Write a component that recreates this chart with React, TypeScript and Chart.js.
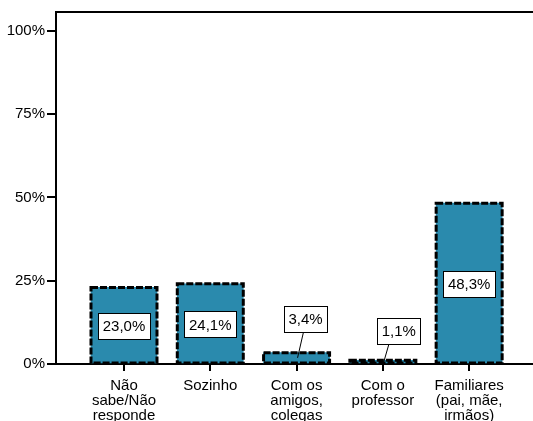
import React, { useEffect, useRef } from "react";
import { Chart, registerables } from "chart.js";

Chart.register(...registerables);

const categories: string[][] = [
  ["Não", "sabe/Não", "responde"],
  ["Sozinho"],
  ["Com os", "amigos,", "colegas"],
  ["Com o", "professor"],
  ["Familiares", "(pai, mãe,", "irmãos)"],
];
const values = [23.0, 24.1, 3.4, 1.1, 48.3];
const yTickValues = [0, 25, 50, 75, 100];

const FONT = "'Liberation Sans', Arial, sans-serif";
const BAR_COLOR = "#2a8aad";
// label placement for short bars (outside, with leader line)
const outsideLabel: Record<number, { dx: number; dy: number; lx: number }> = {
  2: { dx: 9, dy: 34, lx: -2 },
  3: { dx: 16, dy: 29, lx: -10 },
};

const fmt = (v: number) => v.toFixed(1).replace(".", ",") + "%";

const decorPlugin = {
  id: "decor",
  afterDatasetsDraw(chart: any) {
    const ctx = chart.ctx as CanvasRenderingContext2D;
    const meta = chart.getDatasetMeta(0);
    ctx.save();
    meta.data.forEach((bar: any) => {
      const { x, y, base, width } = bar.getProps(["x", "y", "base", "width"], true);
      ctx.strokeStyle = "#000";
      ctx.lineWidth = 3;
      ctx.setLineDash([7, 2]);
      ctx.strokeRect(x - width / 2, y, width, base - y);
    });
    ctx.setLineDash([]);
    ctx.font = `15px ${FONT}`;
    ctx.textAlign = "center";
    ctx.textBaseline = "middle";
    meta.data.forEach((bar: any, i: number) => {
      const { x, y, base } = bar.getProps(["x", "y", "base"], true);
      const text = fmt(values[i]);
      const tw = ctx.measureText(text).width;
      const bw = Math.round(tw + 9);
      const bh = 26;
      let cx = x;
      let cy = (y + base) / 2 + 1;
      const o = outsideLabel[i];
      if (o) {
        cx = x + o.dx;
        cy = y - o.dy;
        ctx.strokeStyle = "#000";
        ctx.lineWidth = 1;
        ctx.beginPath();
        ctx.moveTo(cx + o.lx, cy + bh / 2);
        ctx.lineTo(x + 1, (y + base) / 2);
        ctx.stroke();
      }
      const bx = Math.round(cx - bw / 2) + 0.5;
      const by = Math.round(cy - bh / 2) + 0.5;
      ctx.fillStyle = "#fff";
      ctx.fillRect(bx, by, bw, bh);
      ctx.strokeStyle = "#000";
      ctx.lineWidth = 1;
      ctx.strokeRect(bx, by, bw, bh);
      ctx.fillStyle = "#000";
      ctx.fillText(text, cx, cy + 1);
    });
    ctx.restore();
  },
  afterDraw(chart: any) {
    const ctx = chart.ctx as CanvasRenderingContext2D;
    const a = chart.chartArea;
    ctx.save();
    ctx.strokeStyle = "#000";
    ctx.lineWidth = 2;
    ctx.beginPath();
    ctx.moveTo(a.left - 1, a.top);
    ctx.lineTo(a.right + 2, a.top);
    ctx.stroke();
    ctx.restore();
  },
};

export default function App() {
  const ref = useRef<HTMLCanvasElement | null>(null);
  useEffect(() => {
    document.body.style.margin = "0";
    const chart = new Chart(ref.current!, {
      type: "bar",
      data: {
        datasets: [
          {
            data: values.map((v, i) => ({ x: i, y: v })),
            backgroundColor: BAR_COLOR,
            borderWidth: 0,
            barThickness: 66,
          },
        ],
      },
      options: {
        animation: false,
        responsive: false,
        layout: { padding: { top: 12, left: 0, right: 0, bottom: 0 } },
        plugins: { legend: { display: false }, tooltip: { enabled: false } },
        scales: {
          x: {
            type: "linear",
            offset: false,
            min: -0.788,
            max: 4.74,
            afterBuildTicks: (s: any) => {
              s.ticks = categories.map((_, i) => ({ value: i }));
            },
            afterFit: (s: any) => {
              s.height = 57;
            },
            grid: {
              display: true,
              offset: false,
              drawOnChartArea: false,
              drawTicks: true,
              tickLength: 7,
              color: "#000",
              lineWidth: 2,
            },
            border: { display: true, color: "#000", width: 2 },
            ticks: {
              autoSkip: false,
              maxRotation: 0,
              minRotation: 0,
              padding: 7,
              color: "#000",
              font: { family: FONT, size: 15, lineHeight: 1.0 },
              callback: (_v: any, i: number) => categories[i],
            },
          },
          y: {
            min: 0,
            max: 105.7,
            afterBuildTicks: (s: any) => {
              s.ticks = yTickValues.map((v) => ({ value: v }));
            },
            afterFit: (s: any) => {
              s.width = 56;
            },
            grid: {
              display: true,
              drawOnChartArea: false,
              drawTicks: true,
              tickLength: 9,
              color: "#000",
              lineWidth: 2,
            },
            border: { display: true, color: "#000", width: 2 },
            ticks: {
              padding: 2,
              color: "#000",
              font: { family: FONT, size: 15 },
              callback: (v: any) => v + "%",
            },
          },
        },
      },
      plugins: [decorPlugin],
    });
    return () => chart.destroy();
  }, []);
  return (
    <div style={{ position: "absolute", left: 0, top: 0, width: 533, height: 421 }}>
      <canvas ref={ref} width={533} height={421} />
    </div>
  );
}
